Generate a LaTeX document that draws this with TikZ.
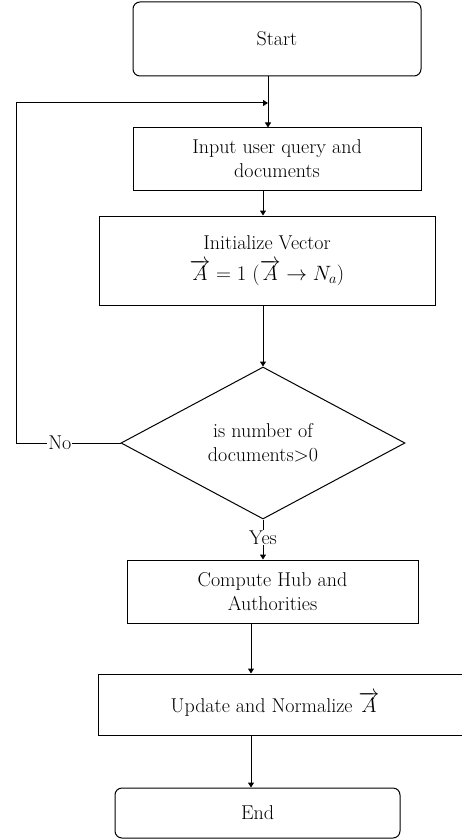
\documentclass[tikz,border=0pt]{standalone}
\usetikzlibrary{shapes.geometric,arrows.meta}
\begin{document}
\begin{tikzpicture}[x=1pt,y=-1pt,
  font=\fontsize{20}{24}\selectfont,
  every node/.style={inner sep=0pt, align=center},
  boxsty/.style={draw, line width=1pt, rectangle},
  termsty/.style={draw, line width=1pt, rectangle, rounded corners=7pt},
  decsty/.style={draw, line width=1pt, diamond},
  arr/.style={line width=1pt, -{Triangle[length=5pt,width=6pt]}},
  lbl/.style={fill=white, inner sep=1pt}]
\useasboundingbox (0,0) rectangle (462,840);
\clip (0,0) rectangle (462,840);
\node[termsty, minimum width=288pt, minimum height=74pt] (start) at (277,39) {Start};
\node[boxsty, minimum width=288pt, minimum height=62pt] (inp) at (277,159) {Input user query and\\documents};
\node[boxsty, minimum width=336pt, minimum height=89pt] (init) at (267,260.5) {Initialize Vector\\[7pt]$\overrightarrow{A} = 1\ (\overrightarrow{A} \rightarrow N_a)$};
\node[decsty, minimum width=284pt, minimum height=152pt] (dec) at (263,443) {is number of\\documents>0};
\node[boxsty, minimum width=291pt, minimum height=63pt] (comp) at (272.5,591.5) {Compute Hub and\\Authorities};
\node[boxsty, minimum width=382pt, minimum height=61pt] (updbox) at (289,704.5) {};
\node (upd) at (275,704.5) {Update and Normalize $\overrightarrow{A}$};
\node[termsty, minimum width=285pt, minimum height=50pt] (end) at (257.5,813) {End};
\coordinate (xa) at (268,0);
\coordinate (xb) at (263,0);
\coordinate (xc) at (251,0);
\coordinate (loopL) at (16,443);
\coordinate (loopT) at (16,103);
\coordinate (loopE) at (268,103);
\draw[arr] (start.south -| xa) -- (inp.north -| xa);
\draw[arr] (inp.south -| xb) -- (init.north -| xb);
\draw[arr] (init.south -| xb) -- (dec.north);
\draw[arr] (dec.west) -- node[lbl, pos=0.58]{No} (loopL) -- (loopT) -- (loopE);
\draw[arr] (dec.south) -- node[lbl, pos=0.45]{Yes} (comp.north -| dec.south);
\draw[arr] (comp.south -| xc) -- (updbox.north -| xc);
\draw[arr] (updbox.south -| xc) -- (end.north -| xc);
\end{tikzpicture}
\end{document}
